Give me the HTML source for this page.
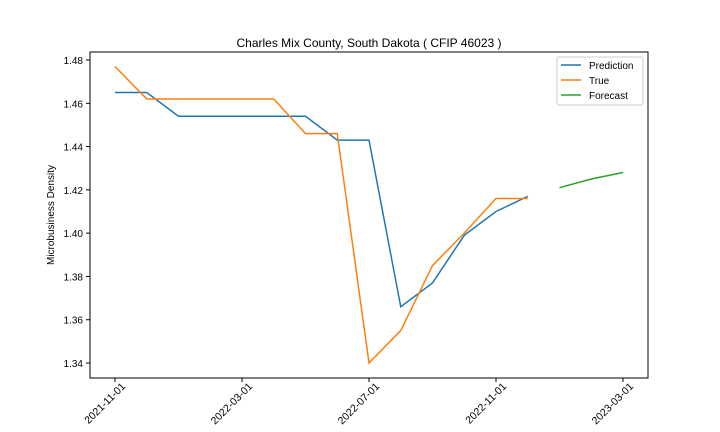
<!DOCTYPE html>
<html><head><meta charset="utf-8"><style>body{margin:0;background:#fff}svg{display:block;font-family:"Liberation Sans","DejaVu Sans",sans-serif}</style></head>
<body>
<svg id="chart" width="720" height="432" viewBox="0 0 720 432" xmlns="http://www.w3.org/2000/svg">
<text x="369" y="47" text-anchor="middle" font-size="12">Charles Mix County, South Dakota ( CFIP 46023 )</text>
<text transform="translate(54,215) rotate(-90)" text-anchor="middle" font-size="10">Microbusiness Density</text>
<g id="grid"></g><g id="series"></g>
<rect x="90" y="52" width="558" height="326" fill="none" stroke="#000" stroke-width="1"/>
<g>
<rect x="557" y="57" width="86" height="48" rx="2" fill="#fff" stroke="#ccc"/>
<line x1="561" y1="65" x2="581" y2="65" stroke="#1f77b4" stroke-width="1.5"/><text x="589" y="69" font-size="10">Prediction</text>
<line x1="561" y1="80" x2="581" y2="80" stroke="#ff7f0e" stroke-width="1.5"/><text x="589" y="84" font-size="10">True</text>
<line x1="561" y1="95" x2="581" y2="95" stroke="#2ca02c" stroke-width="1.5"/><text x="589" y="99" font-size="10">Forecast</text>
</g>
</svg>
<script>
const predMonths=[0,1,2,3,4,5,6,7,8,9,10,11,12,13];
const predValues=[1.465,1.465,1.454,1.454,1.454,1.454,1.454,1.443,1.443,1.366,1.377,1.399,1.410,1.417];
const trueMonths=[0,1,2,3,4,5,6,7,8,9,10,11,12,13];
const trueValues=[1.477,1.462,1.462,1.462,1.462,1.462,1.446,1.446,1.340,1.355,1.385,1.400,1.416,1.416];
const fcMonths=[14,15,16];
const fcValues=[1.421,1.425,1.428];
const yTicks=[1.34,1.36,1.38,1.40,1.42,1.44,1.46,1.48];
const xTickMonths=[0,4,8,12,16];
const xTickLabels=["2021-11-01","2022-03-01","2022-07-01","2022-11-01","2023-03-01"];
const NS="http://www.w3.org/2000/svg";
function xs(m){return 115+m*(623-115)/16;}
function ys(v){return 363-(v-1.34)*(363-60)/0.14;}
const g=document.getElementById('grid'),s=document.getElementById('series');
function mk(tag,attrs,parent){const e=document.createElementNS(NS,tag);for(const k in attrs)e.setAttribute(k,attrs[k]);parent.appendChild(e);return e;}
yTicks.forEach(v=>{const y=ys(v);
const t=mk('line',{x1:86,x2:90,y1:y,y2:y,stroke:'#000'},g);


const l=mk('text',{x:83,y:y+4,'text-anchor':'end','font-size':10},g);l.textContent=v.toFixed(2);

});
xTickMonths.forEach((m,i)=>{const x=xs(m);
const t=mk('line',{x1:x,x2:x,y1:378,y2:382,stroke:'#000'},g);


const l=mk('text',{transform:`translate(${x+11},387) rotate(-45)`,'text-anchor':'end','font-size':10.5},g);l.textContent=xTickLabels[i];

});
function line(ms,vs,color,name){const p=mk('polyline',{points:ms.map((m,i)=>xs(m)+','+ys(vs[i])).join(' '),fill:'none',stroke:color,'stroke-width':1.5},s);

}
line(predMonths,predValues,'#1f77b4','prediction-line');
line(trueMonths,trueValues,'#ff7f0e','true-line');
line(fcMonths,fcValues,'#2ca02c','forecast-line');
</script>
</body></html>
